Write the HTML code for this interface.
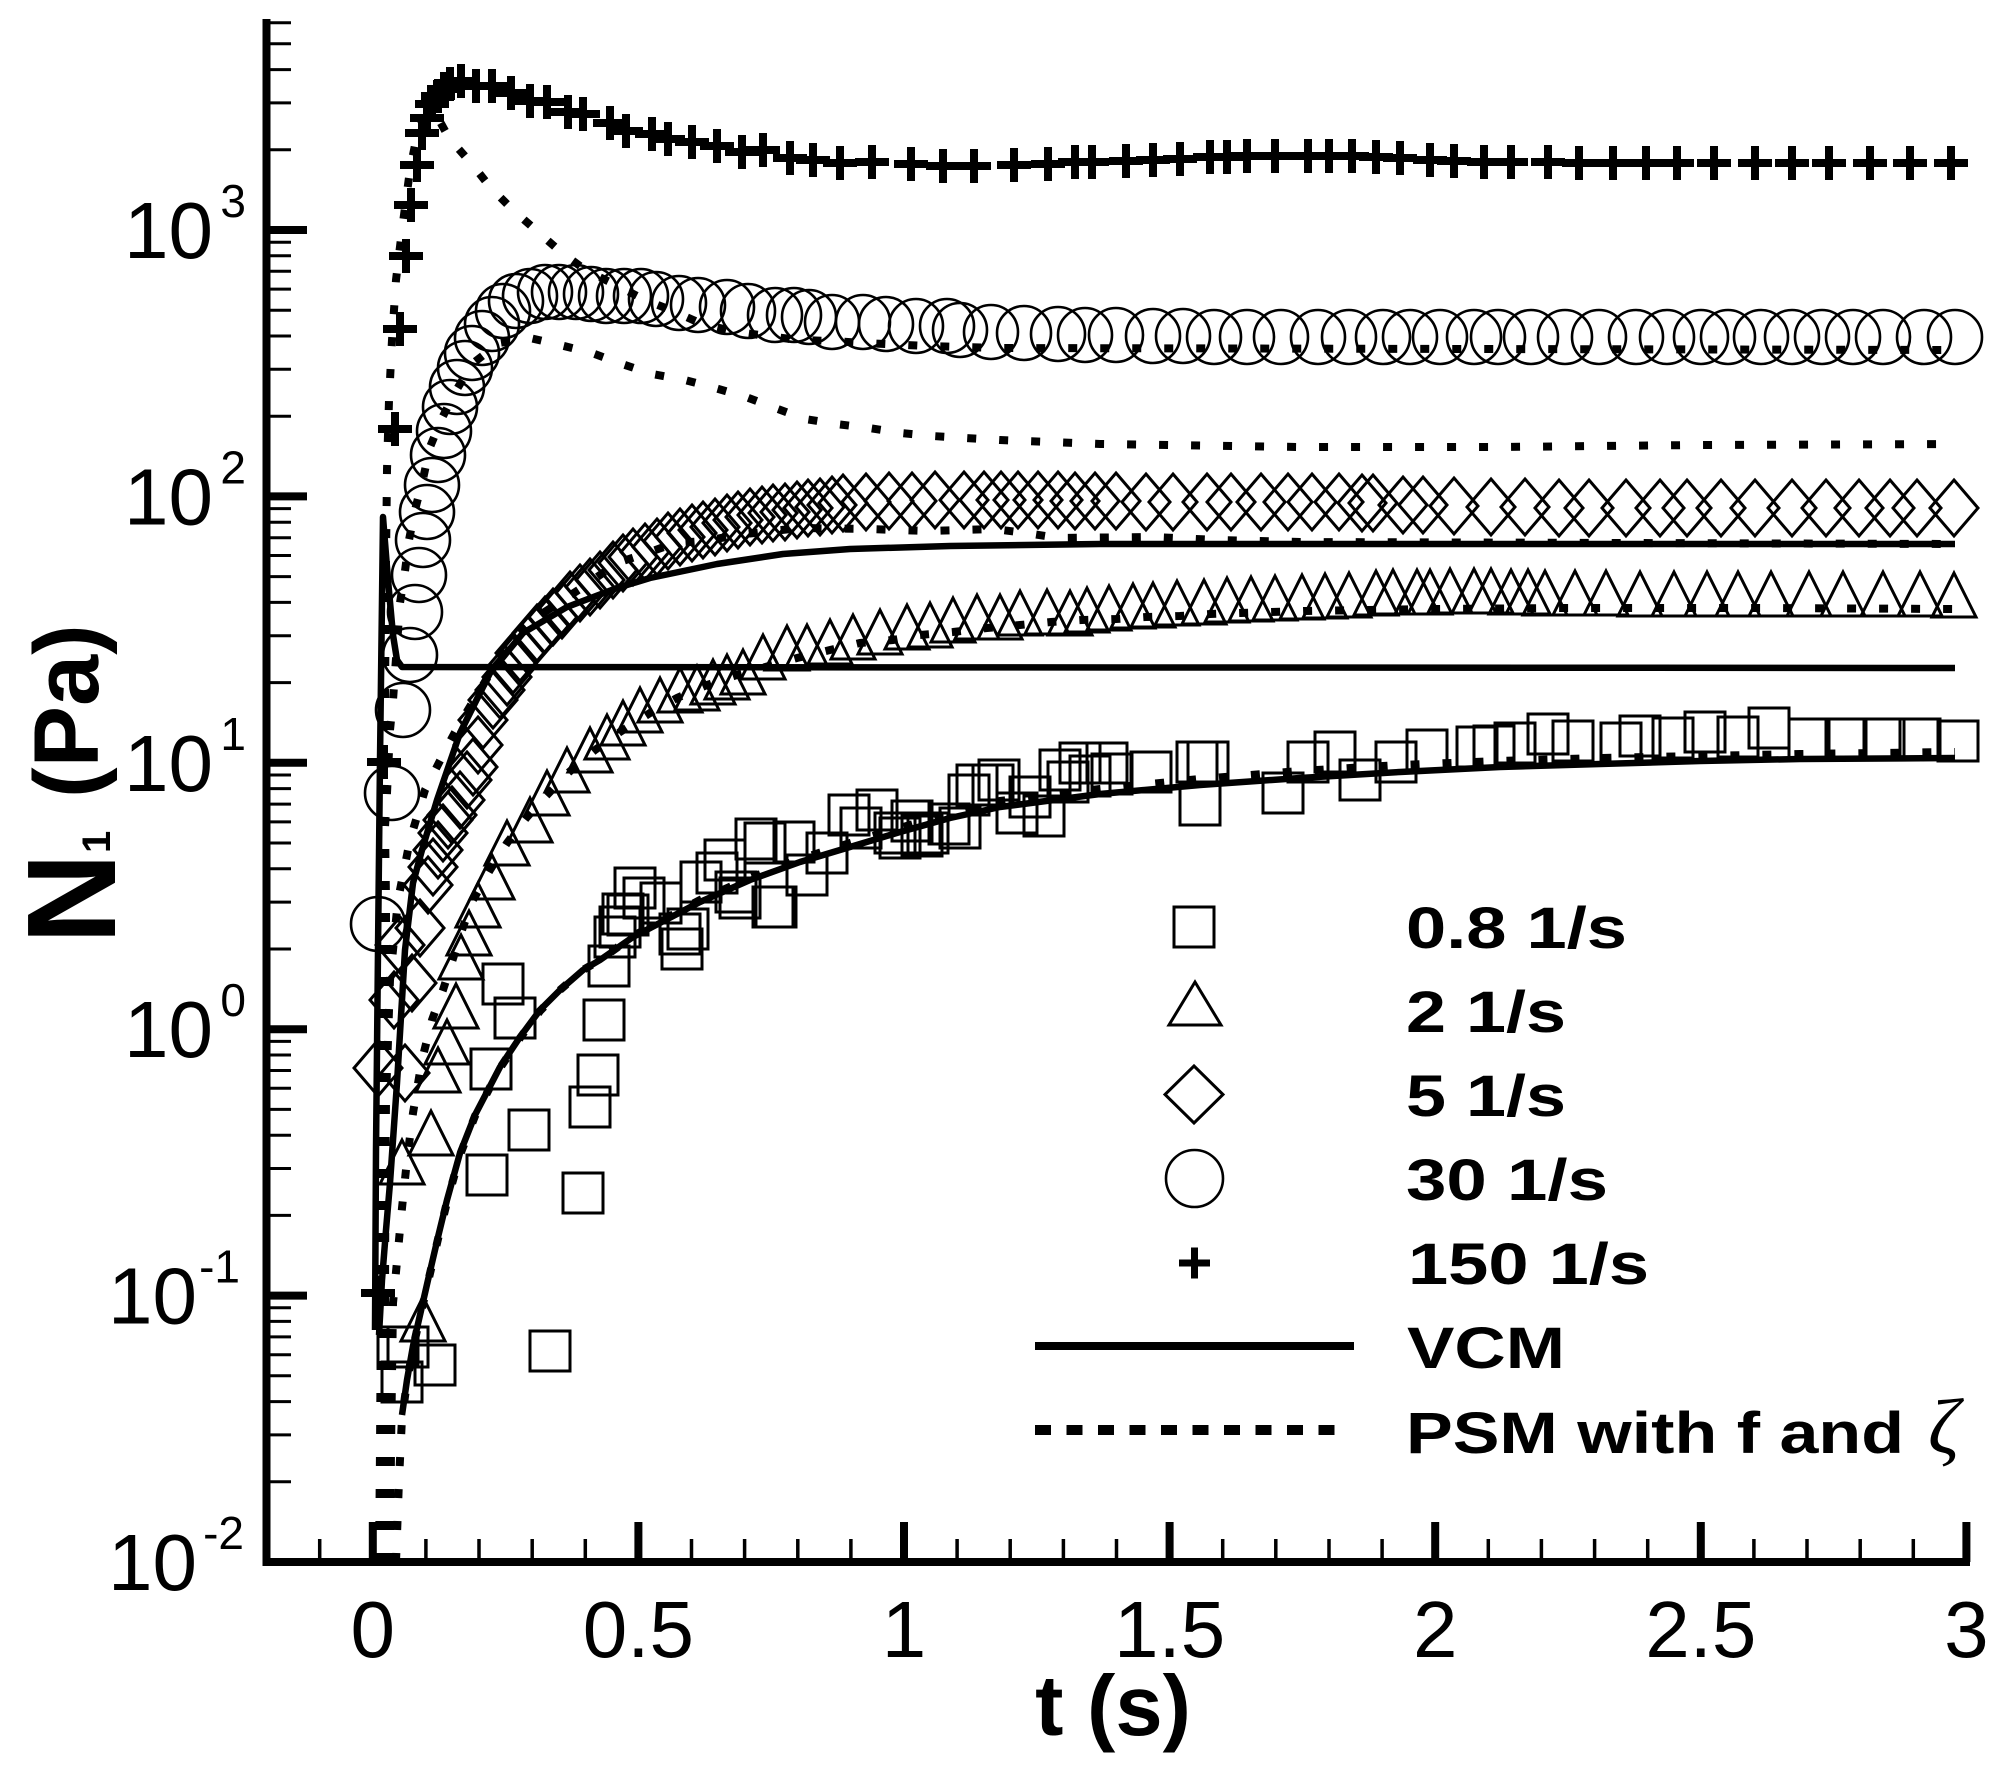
<!DOCTYPE html>
<html><head><meta charset="utf-8"><style>
html,body{margin:0;padding:0;background:#fff;}
svg{display:block;}
text{font-family:"Liberation Sans",Arial,sans-serif;fill:#000;}
</style></head><body>
<svg width="2013" height="1771" viewBox="0 0 2013 1771">
<rect width="2013" height="1771" fill="#fff"/>
<defs>
<path id="s" d="M-20,-20h40v40h-40z"/>
<path id="t" d="M0,-22L22,22H-22z"/>
<path id="d" d="M0,-28L24,0L0,28L-24,0z"/>
<circle id="c" r="27"/>
<path id="p" d="M-17,0H17M0,-17V17"/>
</defs>

<!-- axes -->
<g stroke="#000" fill="none">
<path d="M266.5,19V1566M262.5,1562H1970" stroke-width="8"/>
<path d="M266,230H307M266,496.4H307M266,762.8H307M266,1029.2H307M266,1295.6H307" stroke-width="8"/>
<path stroke-width="3" d="M266,1481.8H291M266,1434.9H291M266,1401.6H291M266,1375.8H291M266,1354.7H291M266,1336.9H291M266,1321.4H291M266,1307.8H291M266,1215.4H291M266,1168.5H291M266,1135.2H291M266,1109.4H291M266,1088.3H291M266,1070.5H291M266,1055H291M266,1041.4H291M266,949H291M266,902.1H291M266,868.8H291M266,843H291M266,821.9H291M266,804.1H291M266,788.6H291M266,775H291M266,682.6H291M266,635.7H291M266,602.4H291M266,576.6H291M266,555.5H291M266,537.7H291M266,522.2H291M266,508.6H291M266,416.2H291M266,369.3H291M266,336H291M266,310.2H291M266,289.1H291M266,271.3H291M266,255.8H291M266,242.2H291M266,149.8H291M266,102.9H291M266,69.6H291M266,43.8H291M266,22.7H291"/>
<path stroke-width="8" d="M372.8,1562V1522M638.4,1562V1522M904,1562V1522M1169.6,1562V1522M1435.2,1562V1522M1700.8,1562V1522M1966.4,1562V1522"/>
<path stroke-width="3.5" d="M319.7,1562V1539M425.9,1562V1539M479,1562V1539M532.2,1562V1539M585.3,1562V1539M691.5,1562V1539M744.6,1562V1539M797.8,1562V1539M850.9,1562V1539M957.1,1562V1539M1010.2,1562V1539M1063.4,1562V1539M1116.5,1562V1539M1222.7,1562V1539M1275.8,1562V1539M1329,1562V1539M1382.1,1562V1539M1488.3,1562V1539M1541.4,1562V1539M1594.6,1562V1539M1647.7,1562V1539M1753.9,1562V1539M1807,1562V1539M1860.2,1562V1539M1913.3,1562V1539"/>
</g>

<!-- y tick labels -->
<g font-size="80">
<text x="124" y="258">10</text>
<text x="124" y="524.4">10</text>
<text x="124" y="790.8">10</text>
<text x="124" y="1057.2">10</text>
<text x="108" y="1323.6">10</text>
<text x="108" y="1590">10</text>
</g>
<g font-size="46" text-anchor="end">
<text x="246" y="217">3</text>
<text x="246" y="483.4">2</text>
<text x="246" y="749.8">1</text>
<text x="246" y="1016.2">0</text>
<text x="240" y="1282.6">-1</text>
<text x="244" y="1549">-2</text>
</g>
<!-- x tick labels -->
<g font-size="80" text-anchor="middle">
<text x="372.8" y="1657">0</text>
<text x="638.4" y="1657">0.5</text>
<text x="904" y="1657">1</text>
<text x="1169.6" y="1657">1.5</text>
<text x="1435.2" y="1657">2</text>
<text x="1700.8" y="1657">2.5</text>
<text x="1966.4" y="1657">3</text>
</g>
<!-- axis titles -->
<text x="1113" y="1735" font-size="85" font-weight="bold" text-anchor="middle">t (s)</text>
<text transform="translate(115,944) rotate(-90)" font-size="126" font-weight="bold">N</text>
<text transform="translate(110,853) rotate(-90)" font-size="40" font-weight="bold">1</text>
<text transform="translate(98,798) rotate(-90)" font-size="92" font-weight="bold">(Pa)</text>

<!-- lines: solid VCM -->
<g fill="none" stroke="#000" stroke-width="6.5" stroke-linejoin="round">
<path d="M375,1330L376,1150L378,950L380,760L382,600L383,517L388,580L393,635L397,660L402,667L1955,668"/>
<path d="M379,1335L382,1280L386,1230L390,1183L397,1083L405,950L413,883L422,850L437,800L460,733L490,673L523,633L567,607L617,588L650,578L717,564L783,554L850,549L950,546L1100,544L1955,544"/>
<path d="M402,1415L407,1380L413,1346L420,1315L428,1280L438,1237L447,1200L460,1153L475,1115L500,1067L520,1037L540,1010L560,990L583,970L600,960L633,937L700,902L750,880L800,862L850,847L900,832L950,818L1000,807L1100,794L1200,785L1300,778L1400,772L1500,767L1600,764L1700,761L1800,759L1955,758"/>
</g>
<!-- lines: dotted PSM -->
<g fill="none" stroke="#000" stroke-width="8" stroke-dasharray="9 23">
<path d="M396,1562L399,1480L402,1418L407,1382L413,1348L420,1317L428,1282L438,1239L447,1202L460,1155L475,1116L500,1068L520,1038L540,1011L560,990L583,970L600,960L633,936L700,900L750,878L800,859L850,843L900,828L950,813L1000,801L1100,789L1200,779L1300,771L1400,765L1500,761L1600,758L1700,756L1800,754L1955,752"/>
<path d="M390,1562L391,1450L393,1303L396,1272L399,1240L402,1208L407,1160L413,1113L422,1060L432,1020L443,990L463,927L473,900L490,870L507,843L527,817L547,795L568,773L595,750L620,732L650,713L677,698L707,685L737,675L797,658L830,650L860,643L893,640L920,635L953,632L987,628L1020,625L1051,622L1082,620L1116,619L1146,617L1180,616L1210,614L1241,613L1305,611L1369,610L1433,609L1562,608L1755,608L1955,609"/>
<path d="M383,1562L384,1300L386,1100L390,980L398,900L410,840L425,790L447,747L460,723L480,690L507,645L537,617L583,587L617,563L647,553L675,543L705,541L737,535L800,528L867,529L930,531L994,529L1026,533L1058,538L1153,537L1217,540L1300,542L1955,544"/>
<path d="M379,1562L380,1450L381,1300L382,1150L383,1000L384,850L385,700L386,560L387,470L389,400L392,340L396,280L402,230L410,170L418,130L428,112L438,118L449,138L471,163L491,188L513,210L538,232L562,253L587,271L614,284L643,299L673,311L702,324L737,332L767,336L798,340L832,341L863,343L928,346L1000,348L1955,350"/>
<path d="M384,1562L385,1300L386,1000L386,900L385,827L387,793L390,730L393,700L400,603L405,571L409,540L415,510L423,479L430,447L442,418L457,389L472,364L499,343L530,338L560,345L592,353L622,364L652,374L685,380L715,388L746,397L775,408L805,419L836,424L869,428L901,433L932,436L1000,440L1100,444L1300,447L1500,447L1700,445L1955,444"/>
</g>

<!-- squares 0.8 1/s -->
<g fill="none" stroke="#000" stroke-width="3">
<use href="#s" x="398" y="1347"/><use href="#s" x="408" y="1347"/><use href="#s" x="402" y="1382"/><use href="#s" x="435" y="1365"/><use href="#s" x="550" y="1351"/><use href="#s" x="583" y="1193"/><use href="#s" x="487" y="1175"/><use href="#s" x="529" y="1130"/><use href="#s" x="590" y="1107"/><use href="#s" x="598" y="1075"/><use href="#s" x="491" y="1069"/><use href="#s" x="604" y="1020"/><use href="#s" x="515" y="1018"/><use href="#s" x="503" y="984"/><use href="#s" x="609" y="966"/><use href="#s" x="615" y="937"/><use href="#s" x="620" y="927"/><use href="#s" x="623" y="914"/><use href="#s" x="628" y="915"/><use href="#s" x="635" y="888"/><use href="#s" x="644" y="898"/><use href="#s" x="661" y="903"/><use href="#s" x="680" y="934"/><use href="#s" x="682" y="949"/><use href="#s" x="688" y="929"/><use href="#s" x="701" y="882"/><use href="#s" x="717" y="873"/><use href="#s" x="725" y="860"/><use href="#s" x="736" y="892"/><use href="#s" x="740" y="898"/><use href="#s" x="756" y="839"/><use href="#s" x="765" y="843"/><use href="#s" x="773" y="907"/><use href="#s" x="776" y="907"/><use href="#s" x="794" y="842"/><use href="#s" x="807" y="875"/><use href="#s" x="827" y="853"/><use href="#s" x="849" y="815"/><use href="#s" x="861" y="828"/><use href="#s" x="877" y="810"/><use href="#s" x="895" y="833"/><use href="#s" x="900" y="838"/><use href="#s" x="912" y="821"/><use href="#s" x="922" y="836"/><use href="#s" x="928" y="833"/><use href="#s" x="949" y="824"/><use href="#s" x="960" y="828"/><use href="#s" x="969" y="795"/><use href="#s" x="977" y="785"/><use href="#s" x="993" y="785"/><use href="#s" x="999" y="780"/><use href="#s" x="1017" y="813"/><use href="#s" x="1030" y="797"/><use href="#s" x="1044" y="816"/><use href="#s" x="1060" y="770"/><use href="#s" x="1068" y="782"/><use href="#s" x="1080" y="763"/><use href="#s" x="1090" y="776"/><use href="#s" x="1107" y="763"/><use href="#s" x="1112" y="774"/><use href="#s" x="1151" y="772"/><use href="#s" x="1197" y="762"/><use href="#s" x="1200" y="805"/><use href="#s" x="1208" y="762"/><use href="#s" x="1283" y="793"/><use href="#s" x="1308" y="762"/><use href="#s" x="1335" y="752"/><use href="#s" x="1360" y="780"/><use href="#s" x="1396" y="762"/><use href="#s" x="1427" y="750"/><use href="#s" x="1477" y="747"/><use href="#s" x="1494" y="746"/><use href="#s" x="1515" y="743"/><use href="#s" x="1548" y="734"/><use href="#s" x="1573" y="741"/><use href="#s" x="1621" y="743"/><use href="#s" x="1640" y="736"/><use href="#s" x="1673" y="738"/><use href="#s" x="1705" y="732"/><use href="#s" x="1738" y="737"/><use href="#s" x="1769" y="728"/><use href="#s" x="1809" y="739"/><use href="#s" x="1846" y="739"/><use href="#s" x="1884" y="739"/><use href="#s" x="1920" y="739"/><use href="#s" x="1958" y="741"/>
</g>

<!-- triangles 2 1/s -->
<g fill="none" stroke="#000" stroke-width="3">
<use href="#t" x="423" y="1319"/><use href="#t" x="402" y="1162"/><use href="#t" x="431" y="1133"/><use href="#t" x="438" y="1070"/><use href="#t" x="447" y="1042"/><use href="#t" x="456" y="1006"/><use href="#t" x="461" y="957"/><use href="#t" x="469" y="933"/><use href="#t" x="478" y="905"/><use href="#t" x="492" y="877"/><use href="#t" x="507" y="843"/><use href="#t" x="530" y="820"/><use href="#t" x="547" y="793"/><use href="#t" x="567" y="770"/><use href="#t" x="590" y="750"/><use href="#t" x="607" y="737"/><use href="#t" x="623" y="723"/><use href="#t" x="640" y="710"/><use href="#t" x="660" y="700"/><use href="#t" x="680" y="690"/><use href="#t" x="697" y="688"/><use href="#t" x="713" y="682"/><use href="#t" x="727" y="677"/><use href="#t" x="743" y="672"/><use href="#t" x="763" y="657"/><use href="#t" x="787" y="648"/><use href="#t" x="807" y="647"/><use href="#t" x="830" y="642"/><use href="#t" x="853" y="637"/><use href="#t" x="880" y="632"/><use href="#t" x="907" y="627"/><use href="#t" x="930" y="625"/><use href="#t" x="953" y="620"/><use href="#t" x="977" y="617"/><use href="#t" x="1000" y="617"/><use href="#t" x="1020" y="613"/><use href="#t" x="1047" y="612"/><use href="#t" x="1070" y="613"/><use href="#t" x="1087" y="610"/><use href="#t" x="1109" y="608"/><use href="#t" x="1133" y="606"/><use href="#t" x="1153" y="605"/><use href="#t" x="1177" y="603"/><use href="#t" x="1204" y="602"/><use href="#t" x="1227" y="600"/><use href="#t" x="1251" y="599"/><use href="#t" x="1275" y="598"/><use href="#t" x="1302" y="597"/><use href="#t" x="1325" y="596"/><use href="#t" x="1349" y="595"/><use href="#t" x="1376" y="593"/><use href="#t" x="1393" y="592"/><use href="#t" x="1417" y="592"/><use href="#t" x="1430" y="592"/><use href="#t" x="1450" y="591"/><use href="#t" x="1474" y="591"/><use href="#t" x="1491" y="591"/><use href="#t" x="1511" y="592"/><use href="#t" x="1528" y="592"/><use href="#t" x="1545" y="593"/><use href="#t" x="1575" y="593"/><use href="#t" x="1606" y="593"/><use href="#t" x="1640" y="594"/><use href="#t" x="1674" y="594"/><use href="#t" x="1707" y="594"/><use href="#t" x="1738" y="594"/><use href="#t" x="1771" y="594"/><use href="#t" x="1809" y="594"/><use href="#t" x="1843" y="594"/><use href="#t" x="1883" y="594"/><use href="#t" x="1920" y="594"/><use href="#t" x="1954" y="595"/>
</g>

<!-- diamonds 5 1/s -->
<g fill="none" stroke="#000" stroke-width="3">
<use href="#d" x="378" y="1068"/><use href="#d" x="394" y="1000"/><use href="#d" x="400" y="945"/><use href="#d" x="405" y="1073"/><use href="#d" x="412" y="983"/><use href="#d" x="420" y="928"/><use href="#d" x="428" y="885"/><use href="#d" x="433" y="867"/><use href="#d" x="438" y="850"/><use href="#d" x="443" y="833"/><use href="#d" x="448" y="820"/><use href="#d" x="452" y="815"/><use href="#d" x="460" y="800"/><use href="#d" x="467" y="780"/><use href="#d" x="473" y="767"/><use href="#d" x="478" y="745"/><use href="#d" x="483" y="720"/><use href="#d" x="493" y="700"/><use href="#d" x="500" y="690"/><use href="#d" x="507" y="677"/><use href="#d" x="513" y="665"/><use href="#d" x="520" y="653"/><use href="#d" x="528" y="645"/><use href="#d" x="537" y="633"/><use href="#d" x="545" y="625"/><use href="#d" x="553" y="617"/><use href="#d" x="562" y="610"/><use href="#d" x="570" y="600"/><use href="#d" x="580" y="593"/><use href="#d" x="590" y="587"/><use href="#d" x="600" y="580"/><use href="#d" x="613" y="570"/><use href="#d" x="623" y="563"/><use href="#d" x="633" y="557"/><use href="#d" x="645" y="552"/><use href="#d" x="657" y="547"/><use href="#d" x="668" y="541"/><use href="#d" x="680" y="537"/><use href="#d" x="692" y="533"/><use href="#d" x="703" y="530"/><use href="#d" x="715" y="527"/><use href="#d" x="727" y="523"/><use href="#d" x="738" y="520"/><use href="#d" x="750" y="517"/><use href="#d" x="762" y="515"/><use href="#d" x="773" y="513"/><use href="#d" x="785" y="512"/><use href="#d" x="797" y="510"/><use href="#d" x="808" y="508"/><use href="#d" x="820" y="507"/><use href="#d" x="832" y="505"/><use href="#d" x="843" y="503"/><use href="#d" x="866" y="502"/><use href="#d" x="889" y="501"/><use href="#d" x="912" y="501"/><use href="#d" x="935" y="500"/><use href="#d" x="964" y="500"/><use href="#d" x="984" y="500"/><use href="#d" x="1001" y="500"/><use href="#d" x="1018" y="500"/><use href="#d" x="1038" y="500"/><use href="#d" x="1058" y="500"/><use href="#d" x="1075" y="501"/><use href="#d" x="1095" y="501"/><use href="#d" x="1116" y="501"/><use href="#d" x="1146" y="502"/><use href="#d" x="1173" y="502"/><use href="#d" x="1207" y="502"/><use href="#d" x="1231" y="502"/><use href="#d" x="1261" y="502"/><use href="#d" x="1288" y="502"/><use href="#d" x="1312" y="502"/><use href="#d" x="1339" y="502"/><use href="#d" x="1362" y="503"/><use href="#d" x="1373" y="503"/><use href="#d" x="1403" y="505"/><use href="#d" x="1423" y="505"/><use href="#d" x="1454" y="506"/><use href="#d" x="1491" y="507"/><use href="#d" x="1525" y="507"/><use href="#d" x="1559" y="508"/><use href="#d" x="1589" y="508"/><use href="#d" x="1626" y="508"/><use href="#d" x="1660" y="508"/><use href="#d" x="1687" y="508"/><use href="#d" x="1721" y="508"/><use href="#d" x="1755" y="508"/><use href="#d" x="1792" y="508"/><use href="#d" x="1826" y="508"/><use href="#d" x="1859" y="508"/><use href="#d" x="1890" y="508"/><use href="#d" x="1917" y="508"/><use href="#d" x="1954" y="508"/>
</g>

<!-- circles 30 1/s -->
<g fill="none" stroke="#000" stroke-width="2.6">
<use href="#c" x="378" y="924"/><use href="#c" x="392" y="793"/><use href="#c" x="403" y="710"/><use href="#c" x="410" y="655"/><use href="#c" x="415" y="612"/><use href="#c" x="419" y="575"/><use href="#c" x="423" y="540"/><use href="#c" x="427" y="512"/><use href="#c" x="432" y="485"/><use href="#c" x="438" y="455"/><use href="#c" x="444" y="431"/><use href="#c" x="450" y="407"/><use href="#c" x="457" y="387"/><use href="#c" x="465" y="368"/><use href="#c" x="472" y="353"/><use href="#c" x="482" y="338"/><use href="#c" x="492" y="324"/><use href="#c" x="503" y="311"/><use href="#c" x="516" y="301"/><use href="#c" x="530" y="296"/><use href="#c" x="545" y="292"/><use href="#c" x="559" y="292"/><use href="#c" x="576" y="292"/><use href="#c" x="591" y="294"/><use href="#c" x="606" y="296"/><use href="#c" x="624" y="296"/><use href="#c" x="641" y="296"/><use href="#c" x="656" y="299"/><use href="#c" x="679" y="303"/><use href="#c" x="698" y="305"/><use href="#c" x="727" y="307"/><use href="#c" x="748" y="311"/><use href="#c" x="775" y="315"/><use href="#c" x="794" y="315"/><use href="#c" x="809" y="317"/><use href="#c" x="832" y="322"/><use href="#c" x="863" y="322"/><use href="#c" x="886" y="324"/><use href="#c" x="916" y="326"/><use href="#c" x="947" y="326"/><use href="#c" x="960" y="330"/><use href="#c" x="991" y="332"/><use href="#c" x="1024" y="333"/><use href="#c" x="1058" y="334"/><use href="#c" x="1085" y="335"/><use href="#c" x="1116" y="335"/><use href="#c" x="1153" y="336"/><use href="#c" x="1183" y="336"/><use href="#c" x="1214" y="337"/><use href="#c" x="1247" y="337"/><use href="#c" x="1281" y="337"/><use href="#c" x="1318" y="337"/><use href="#c" x="1349" y="337"/><use href="#c" x="1383" y="337"/><use href="#c" x="1410" y="337"/><use href="#c" x="1440" y="337"/><use href="#c" x="1474" y="337"/><use href="#c" x="1498" y="337"/><use href="#c" x="1531" y="337"/><use href="#c" x="1565" y="337"/><use href="#c" x="1599" y="337"/><use href="#c" x="1636" y="337"/><use href="#c" x="1667" y="337"/><use href="#c" x="1701" y="337"/><use href="#c" x="1728" y="337"/><use href="#c" x="1761" y="337"/><use href="#c" x="1792" y="337"/><use href="#c" x="1822" y="337"/><use href="#c" x="1853" y="337"/><use href="#c" x="1883" y="337"/><use href="#c" x="1924" y="337"/><use href="#c" x="1955" y="337"/>
</g>

<!-- plus 150 1/s -->
<g fill="none" stroke="#000" stroke-width="8">
<use href="#p" x="378" y="1293"/><use href="#p" x="384" y="762"/><use href="#p" x="395" y="429"/><use href="#p" x="400" y="329"/><use href="#p" x="406" y="256"/><use href="#p" x="411" y="205"/><use href="#p" x="417" y="165"/><use href="#p" x="422" y="133"/><use href="#p" x="427" y="118"/><use href="#p" x="432" y="104"/><use href="#p" x="438" y="96"/><use href="#p" x="444" y="89"/><use href="#p" x="450" y="84"/><use href="#p" x="461" y="81"/><use href="#p" x="476" y="86"/><use href="#p" x="492" y="86"/><use href="#p" x="511" y="93"/><use href="#p" x="530" y="101"/><use href="#p" x="547" y="102"/><use href="#p" x="568" y="112"/><use href="#p" x="583" y="114"/><use href="#p" x="610" y="123"/><use href="#p" x="626" y="131"/><use href="#p" x="652" y="134"/><use href="#p" x="668" y="139"/><use href="#p" x="692" y="142"/><use href="#p" x="717" y="146"/><use href="#p" x="742" y="152"/><use href="#p" x="763" y="150"/><use href="#p" x="790" y="158"/><use href="#p" x="813" y="160"/><use href="#p" x="840" y="163"/><use href="#p" x="872" y="162"/><use href="#p" x="911" y="164"/><use href="#p" x="943" y="166"/><use href="#p" x="974" y="166"/><use href="#p" x="1014" y="165"/><use href="#p" x="1048" y="164"/><use href="#p" x="1075" y="162"/><use href="#p" x="1092" y="162"/><use href="#p" x="1126" y="161"/><use href="#p" x="1153" y="160"/><use href="#p" x="1180" y="159"/><use href="#p" x="1210" y="157"/><use href="#p" x="1227" y="157"/><use href="#p" x="1247" y="156"/><use href="#p" x="1275" y="156"/><use href="#p" x="1308" y="156"/><use href="#p" x="1329" y="156"/><use href="#p" x="1352" y="156"/><use href="#p" x="1376" y="157"/><use href="#p" x="1400" y="158"/><use href="#p" x="1430" y="160"/><use href="#p" x="1454" y="161"/><use href="#p" x="1484" y="162"/><use href="#p" x="1511" y="162"/><use href="#p" x="1548" y="162"/><use href="#p" x="1579" y="163"/><use href="#p" x="1613" y="163"/><use href="#p" x="1646" y="163"/><use href="#p" x="1677" y="163"/><use href="#p" x="1714" y="163"/><use href="#p" x="1755" y="163"/><use href="#p" x="1792" y="163"/><use href="#p" x="1829" y="163"/><use href="#p" x="1870" y="163"/><use href="#p" x="1910" y="163"/><use href="#p" x="1951" y="163"/>
</g>

<!-- legend -->
<g fill="none" stroke="#000" stroke-width="3">
<rect x="1174" y="907" width="40" height="40"/>
<path d="M1195,982L1221,1025H1169z"/>
<path d="M1194,1066L1223,1094.5L1194,1123L1165,1094.5z"/>
<circle cx="1194.5" cy="1178.5" r="28.5" stroke-width="2.6"/>
<path d="M1179,1263H1210M1194.5,1247.5V1278.5" stroke-width="7"/>
<path d="M1035,1346H1354" stroke-width="8"/>
<path d="M1035,1430H1336" stroke-width="10" stroke-dasharray="16 15.5"/>
</g>
<g font-size="58" font-weight="bold">
<text x="1406" y="948" textLength="221" lengthAdjust="spacingAndGlyphs">0.8 1/s</text>
<text x="1406" y="1032" textLength="160" lengthAdjust="spacingAndGlyphs">2 1/s</text>
<text x="1406" y="1116" textLength="160" lengthAdjust="spacingAndGlyphs">5 1/s</text>
<text x="1406" y="1200" textLength="202" lengthAdjust="spacingAndGlyphs">30 1/s</text>
<text x="1408" y="1284" textLength="241" lengthAdjust="spacingAndGlyphs">150 1/s</text>
<text x="1407" y="1368" textLength="158" lengthAdjust="spacingAndGlyphs">VCM</text>
<text x="1406" y="1453" textLength="498" lengthAdjust="spacingAndGlyphs">PSM with f and</text>
</g>
<text x="1928" y="1453" font-size="78" font-style="italic" style="font-family:'Liberation Serif','DejaVu Serif',serif">ζ</text>
</svg>
</body></html>
